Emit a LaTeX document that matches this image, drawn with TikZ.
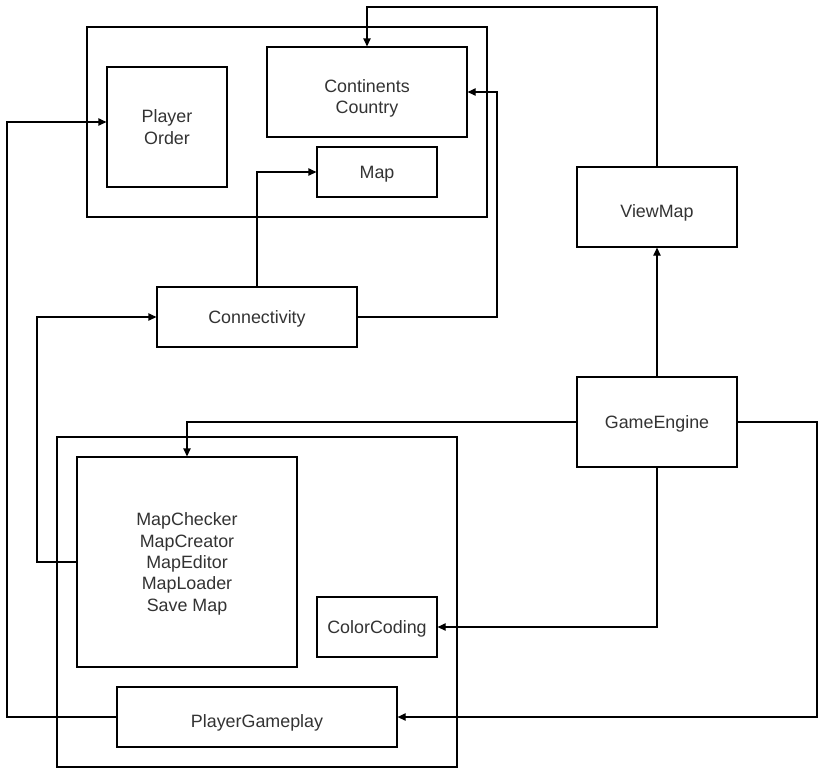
\documentclass[tikz,border=0pt]{standalone}
\usepackage{fontspec}
\setmainfont{Liberation Sans}
\usetikzlibrary{arrows.meta}
\definecolor{txt}{HTML}{333333}
\begin{document}
\begin{tikzpicture}[x=0.75pt,y=-0.75pt,
  box/.style={draw=black,line width=0.9pt,inner sep=0pt},
  lbl/.style={inner sep=0pt,text=txt,align=center,font=\fontsize{13.4}{16.1}\selectfont},
  link/.style={draw=black,line width=0.9pt,-{Triangle[length=6pt,width=5.5pt]}}]
\useasboundingbox (0,0) rectangle (827,768);
\fill[white] (0,0) rectangle (827,768);
% containers
\node[box,minimum width=400*0.75pt,minimum height=190*0.75pt] (top) at (287,122) {};
\node[box,minimum width=400*0.75pt,minimum height=330*0.75pt] (bottom) at (257,602) {};
% boxes
\node[box,minimum width=120*0.75pt,minimum height=120*0.75pt] (order) at (167,127) {};
\node[box,minimum width=200*0.75pt,minimum height=90*0.75pt] (cont) at (367,92) {};
\node[box,minimum width=120*0.75pt,minimum height=50*0.75pt] (map) at (377,172) {};
\node[box,minimum width=200*0.75pt,minimum height=60*0.75pt] (conn) at (257,317) {};
\node[box,minimum width=160*0.75pt,minimum height=80*0.75pt] (view) at (657,207) {};
\node[box,minimum width=160*0.75pt,minimum height=90*0.75pt] (engine) at (657,422) {};
\node[box,minimum width=220*0.75pt,minimum height=210*0.75pt] (tools) at (187,562) {};
\node[box,minimum width=120*0.75pt,minimum height=60*0.75pt] (color) at (377,627) {};
\node[box,minimum width=280*0.75pt,minimum height=60*0.75pt] (play) at (257,717) {};
% box texts
\node[lbl] (orderT) at (order.center) {Player\\Order};
\node[lbl] (contT) at ([yshift=-4.6pt]cont.center) {Continents\\Country};
\node[lbl] (mapT) at ([yshift=-1.4pt]map.center) {Map};
\node[lbl] (connT) at ([yshift=-1.4pt]conn.center) {Connectivity};
\node[lbl] (viewT) at ([yshift=-4.6pt]view.center) {ViewMap};
\node[lbl] (engineT) at ([yshift=-1.4pt]engine.center) {GameEngine};
\node[lbl] (toolsT) at ([yshift=-1.4pt]tools.center) {MapChecker\\MapCreator\\MapEditor\\MapLoader\\Save Map};
\node[lbl] (colorT) at ([yshift=-1.4pt]color.center) {ColorCoding};
\node[lbl] (playT) at ([yshift=-4.4pt]play.center) {PlayerGameplay};
% routing points
\coordinate (v1) at (657,7);
\coordinate (v2) at (367,7);
\coordinate (c1) at (497,317);
\coordinate (c2) at (497,92);
\coordinate (m1) at (257,172);
\coordinate (t1) at (37,562);
\coordinate (t2) at (37,317);
\coordinate (p1) at (7,717);
\coordinate (p2) at (7,122);
\coordinate (e1) at (187,422);
\coordinate (e2) at (657,627);
\coordinate (e3) at (817,422);
\coordinate (e4) at (817,717);
% connectors
\draw[link] (view.north) -- (v1) -- (v2) -- (cont.north);
\draw[link] (conn.east) -- (c1) -- (c2) -- (cont.east);
\draw[link] (conn.north) -- (m1) -- (map.west);
\draw[link] (tools.west) -- (t1) -- (t2) -- (conn.west);
\draw[link] (play.west) -- (p1) -- (p2) -- (order.west |- p2);
\draw[link] (engine.north) -- (view.south);
\draw[link] (engine.west) -- (e1) -- (tools.north);
\draw[link] (engine.south) -- (e2) -- (color.east);
\draw[link] (engine.east) -- (e3) -- (e4) -- (play.east);
\end{tikzpicture}
\end{document}
